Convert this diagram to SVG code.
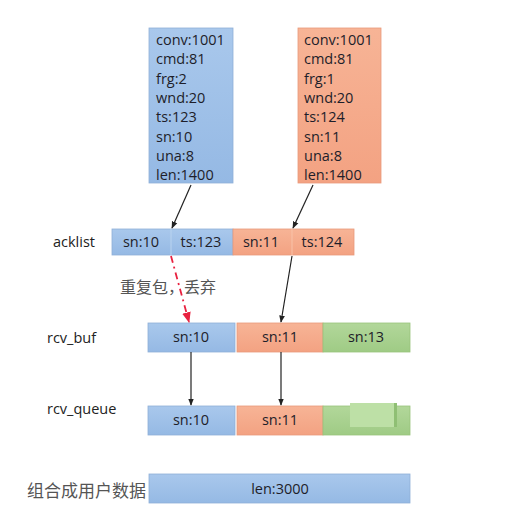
<svg xmlns="http://www.w3.org/2000/svg" width="519" height="529" viewBox="0 0 519 529">
<defs>
<linearGradient id="gb" x1="0" y1="0" x2="0" y2="1"><stop offset="0" stop-color="#a9c8ec"/><stop offset="1" stop-color="#95b9e4"/></linearGradient>
<linearGradient id="go" x1="0" y1="0" x2="0" y2="1"><stop offset="0" stop-color="#f7b496"/><stop offset="1" stop-color="#f3a282"/></linearGradient>
<linearGradient id="gg" x1="0" y1="0" x2="0" y2="1"><stop offset="0" stop-color="#b2d79a"/><stop offset="1" stop-color="#9fcb85"/></linearGradient>
<marker id="ah" viewBox="0 0 10 10" refX="9" refY="5" markerWidth="6" markerHeight="6" orient="auto"><path d="M0,1 L10,5 L0,9 z" fill="#222"/></marker>
<marker id="ahr" viewBox="0 0 10 10" refX="9" refY="5" markerWidth="6" markerHeight="6" orient="auto"><path d="M0,1 L10,5 L0,9 z" fill="#e8213f"/></marker>
</defs>
<style>
.b{fill:url(#gb);stroke:#8fb0d8;stroke-width:0.8}
.o{fill:url(#go);stroke:#e99a7a;stroke-width:0.8}
.g{fill:url(#gg);stroke:#98c47c;stroke-width:0.8}
.t{font-family:"Open Sans","Liberation Sans",sans-serif;font-size:14.5px;fill:#1e1e2a}
.c{text-anchor:middle}
.l{font-family:"Open Sans","Liberation Sans",sans-serif;font-size:14.5px;fill:#222}
.cn{font-family:"Noto Sans CJK SC",serif;font-size:16px;fill:#555}
.a{stroke:#222;stroke-width:1.2;fill:none;marker-end:url(#ah)}
</style>
<rect width="519" height="529" fill="#fff"/>
<g id="seg1">
<rect class="b" x="149" y="28" width="84" height="155"/>
<text class="t" x="156" y="45">conv:1001</text>
<text class="t" x="156" y="64">cmd:81</text>
<text class="t" x="156" y="84">frg:2</text>
<text class="t" x="156" y="103">wnd:20</text>
<text class="t" x="156" y="122">ts:123</text>
<text class="t" x="156" y="142">sn:10</text>
<text class="t" x="156" y="161">una:8</text>
<text class="t" x="156" y="180">len:1400</text>
</g>
<g id="seg2">
<rect class="o" x="298" y="28" width="83" height="155"/>
<text class="t" x="304" y="45">conv:1001</text>
<text class="t" x="304" y="64">cmd:81</text>
<text class="t" x="304" y="84">frg:1</text>
<text class="t" x="304" y="103">wnd:20</text>
<text class="t" x="304" y="122">ts:124</text>
<text class="t" x="304" y="142">sn:11</text>
<text class="t" x="304" y="161">una:8</text>
<text class="t" x="304" y="180">len:1400</text>
</g>
<g id="acklist">
<text class="l" x="53" y="247">acklist</text>
<rect class="b" x="112" y="229" width="121" height="26"/>
<rect class="o" x="233" y="229" width="121" height="26"/>
<line x1="171" y1="229" x2="171" y2="255" stroke="#b9d3ef" stroke-width="1"/>
<line x1="292" y1="229" x2="292" y2="255" stroke="#f8c2a8" stroke-width="1"/>
<text class="t c" x="141" y="247">sn:10</text>
<text class="t c" x="201" y="247">ts:123</text>
<text class="t c" x="261" y="247">sn:11</text>
<text class="t c" x="322" y="247">ts:124</text>
</g>
<g id="rcv_buf">
<text class="l" x="47" y="343">rcv_buf</text>
<rect class="b" x="148" y="323" width="87" height="29"/>
<rect class="o" x="237" y="323" width="86" height="29"/>
<rect class="g" x="323" y="323" width="87" height="29"/>
<text class="t c" x="191" y="342">sn:10</text>
<text class="t c" x="280" y="342">sn:11</text>
<text class="t c" x="366" y="342">sn:13</text>
</g>
<g id="rcv_queue">
<text class="l" x="47" y="414">rcv_queue</text>
<rect class="b" x="148" y="406" width="87" height="29"/>
<rect class="o" x="237" y="406" width="86" height="29"/>
<rect class="g" x="323" y="406" width="87" height="29"/>
<rect x="350" y="403" width="46" height="24" fill="#bde0a6"/>
<rect x="394" y="403" width="3" height="24" fill="#8fbf74"/>
<text class="t c" x="191" y="425">sn:10</text>
<text class="t c" x="280" y="425">sn:11</text>
</g>
<g id="userdata">
<text class="cn" x="27" y="497" style="font-size:17px">组合成用户数据</text>
<rect class="b" x="149" y="474" width="261" height="29"/>
<text class="t c" x="280" y="494">len:3000</text>
</g>
<g id="note">
<text class="cn" x="120" y="293">重复包，丢弃</text>
</g>
<g id="connectors">
<line class="a" x1="191" y1="185" x2="172" y2="228"/>
<line class="a" x1="313" y1="185" x2="293" y2="228"/>
<line x1="171" y1="256" x2="189" y2="322" stroke="#e8213f" stroke-width="1.8" stroke-dasharray="7,4,2,4" marker-end="url(#ahr)"/>
<line class="a" x1="292" y1="256" x2="281" y2="322"/>
<line class="a" x1="191" y1="352" x2="191" y2="405"/>
<line class="a" x1="281" y1="352" x2="281" y2="405"/>
</g>
</svg>
